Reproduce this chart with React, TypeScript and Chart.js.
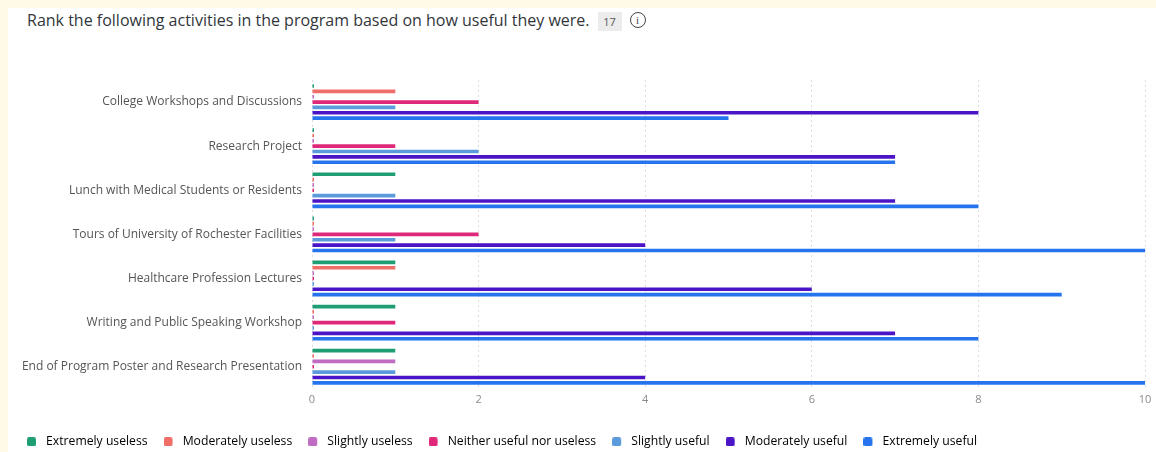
import React, { useEffect, useRef } from "react";
import { Chart, registerables } from "chart.js";

Chart.register(...registerables);

// Activities ranked by participants
const activities = [
  "College Workshops and Discussions",
  "Research Project",
  "Lunch with Medical Students or Residents",
  "Tours of University of Rochester Facilities",
  "Healthcare Profession Lectures",
  "Writing and Public Speaking Workshop",
  "End of Program Poster and Research Presentation",
];

// Response counts per rating, one entry per activity
const extremelyUseless = [0, 0, 1, 0, 1, 1, 1];
const moderatelyUseless = [1, 0, 0, 0, 1, 0, 0];
const slightlyUseless = [0, 0, 0, 0, 0, 0, 1];
const neitherUsefulNorUseless = [2, 1, 0, 2, 0, 1, 0];
const slightlyUseful = [1, 2, 1, 1, 0, 0, 1];
const moderatelyUseful = [8, 7, 7, 4, 6, 7, 4];
const extremelyUseful = [5, 7, 8, 10, 9, 8, 10];

const ratingLabels = [
  "Extremely useless",
  "Moderately useless",
  "Slightly useless",
  "Neither useful nor useless",
  "Slightly useful",
  "Moderately useful",
  "Extremely useful",
];
const ratingColors = [
  "#1f9e76",
  "#ef6f68",
  "#c06cc2",
  "#e0287a",
  "#5b9bdc",
  "#4b14c6",
  "#2574ee",
];
const ratingSeries = [
  extremelyUseless,
  moderatelyUseless,
  slightlyUseless,
  neitherUsefulNorUseless,
  slightlyUseful,
  moderatelyUseful,
  extremelyUseful,
];

const xTicks = [0, 2, 4, 6, 8, 10];
const responseCount = "17";
const questionText =
  "Rank the following activities in the program based on how useful they were.";

const FONT = "'Open Sans', 'Noto Sans', sans-serif";

// Legend swatch: a small rounded square on the left of a wider transparent box,
// so the label text sits a little further from the swatch.
function makeSwatch(color: string): HTMLCanvasElement {
  const c = document.createElement("canvas");
  c.width = 13;
  c.height = 9;
  const ctx = c.getContext("2d")!;
  ctx.fillStyle = color;
  ctx.beginPath();
  const r = 2;
  ctx.moveTo(r, 0);
  ctx.lineTo(9 - r, 0);
  ctx.quadraticCurveTo(9, 0, 9, r);
  ctx.lineTo(9, 9 - r);
  ctx.quadraticCurveTo(9, 9, 9 - r, 9);
  ctx.lineTo(r, 9);
  ctx.quadraticCurveTo(0, 9, 0, 9 - r);
  ctx.lineTo(0, r);
  ctx.quadraticCurveTo(0, 0, r, 0);
  ctx.fill();
  return c;
}

export default function App() {
  const canvasRef = useRef<HTMLCanvasElement | null>(null);

  useEffect(() => {
    document.documentElement.style.overflow = "hidden";
    document.body.style.background = "#fffbe6";
    const canvas = canvasRef.current;
    if (!canvas) return;
    const swatches = ratingColors.map(makeSwatch);
    const chart = new Chart(canvas, {
      type: "bar",
      data: {
        labels: activities,
        datasets: ratingSeries.map((values, i) => ({
          label: ratingLabels[i],
          data: values,
          backgroundColor: ratingColors[i],
          borderWidth: 0,
          minBarLength: 2,
          categoryPercentage: 0.85,
          barPercentage: 0.68,
        })),
      },
      options: {
        indexAxis: "y",
        animation: false,
        responsive: false,
        maintainAspectRatio: false,
        layout: { padding: { left: 3, right: 11, top: 30, bottom: 0 } },
        plugins: {
          tooltip: { enabled: false },
          legend: {
            position: "bottom",
            align: "start",
            labels: {
              usePointStyle: true,
              pointStyleWidth: 13,
              boxHeight: 9,
              padding: 16,
              color: "#333333",
              font: { family: FONT, size: 12.2 },
              generateLabels: (c: Chart) =>
                c.data.datasets.map((ds: any, i: number) => ({
                  text: ds.label,
                  fillStyle: ratingColors[i],
                  strokeStyle: ratingColors[i],
                  lineWidth: 0,
                  pointStyle: swatches[i],
                  hidden: false,
                  datasetIndex: i,
                })),
            },
          },
        },
        scales: {
          x: {
            min: 0,
            max: 10,
            afterBuildTicks: (scale: any) => {
              scale.ticks = xTicks.map((v) => ({ value: v }));
            },
            afterFit: (scale: any) => {
              scale.height = 31;
            },
            border: { display: false, dash: [2, 3] },
            grid: {
              color: "#dcdcdc",
              lineWidth: 1,
              drawTicks: false,
            },
            ticks: {
              color: "#8a8a8a",
              padding: 4,
              font: { family: FONT, size: 11 },
            },
          },
          y: {
            afterFit: (scale: any) => {
              scale.width = 301;
            },
            border: { display: false },
            grid: { display: false, drawTicks: false },
            ticks: {
              color: "#555555",
              padding: 10,
              font: { family: FONT, size: 12 },
            },
          },
        },
      },
    } as any);
    return () => chart.destroy();
  }, []);

  return (
    <div
      style={{
        position: "fixed",
        left: 8,
        top: 8,
        right: 0,
        bottom: 0,
        background: "#ffffff",
        fontFamily: FONT,
        overflow: "hidden",
      }}
    >
      <div
        style={{
          position: "absolute",
          left: 19,
          top: 0,
          height: 24,
          display: "flex",
          alignItems: "center",
          whiteSpace: "nowrap",
        }}
      >
        <span style={{ fontSize: 16, color: "#32363a" }}>{questionText}</span>
        <span
          style={{
            marginLeft: 8,
            marginTop: 2,
            background: "#ececec",
            color: "#555",
            fontSize: 11,
            width: 24,
            height: 19,
            display: "inline-flex",
            alignItems: "center",
            justifyContent: "center",
          }}
        >
          {responseCount}
        </span>
        <span
          style={{
            marginLeft: 8,
            width: 14,
            height: 14,
            borderRadius: "50%",
            border: "1.4px solid #444",
            display: "inline-flex",
            alignItems: "center",
            justifyContent: "center",
            fontSize: 11,
            color: "#444",
            fontFamily: "serif",
          }}
        >
          i
        </span>
      </div>
      <div style={{ position: "absolute", left: 0, top: 42, width: 1148, height: 408 }}>
        <canvas ref={canvasRef} width={1148} height={408} />
      </div>
    </div>
  );
}
